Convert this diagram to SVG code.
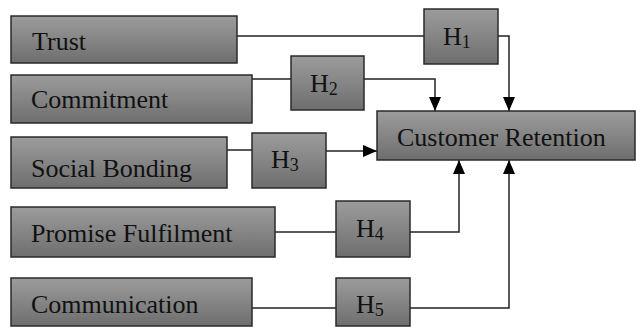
<svg xmlns="http://www.w3.org/2000/svg" width="636" height="327" viewBox="0 0 636 327">
<defs>
<linearGradient id="g" x1="0" y1="0" x2="0" y2="1">
<stop offset="0" stop-color="#9c9c9c"/>
<stop offset="1" stop-color="#6e6e6e"/>
</linearGradient>
<marker id="ah" markerWidth="14" markerHeight="12" refX="14" refY="6" orient="auto" markerUnits="userSpaceOnUse">
<path d="M0,0 L14,6 L0,12 Z" fill="#000"/>
</marker>
<style>
.box{fill:url(#g);stroke:#2a2a2a;stroke-width:1.5}
.t{font-family:"Liberation Serif","Times New Roman",serif;font-size:26px;fill:#111}
.s{font-size:18px}
.c{fill:none;stroke:#222;stroke-width:1.5}
.a{marker-end:url(#ah)}
</style>
</defs>
<rect width="636" height="327" fill="#fff"/>
<g id="connectors">
<path class="c" d="M237,36 H424"/>
<path class="c a" d="M498,36 H509 V111"/>
<path class="c" d="M252,79 H291"/>
<path class="c a" d="M364,79 H435 V111"/>
<path class="c" d="M227,150 H252"/>
<path class="c a" d="M326,151 H377"/>
<path class="c" d="M275,232 H336"/>
<path class="c a" d="M410,232 H459 V160"/>
<path class="c" d="M252,308 H336"/>
<path class="c a" d="M410,308 H509 V160"/>
</g>
<g id="trust"><rect class="box" x="11" y="16" width="226" height="47"/><text class="t" x="32" y="50">Trust</text></g>
<g id="commitment"><rect class="box" x="11" y="75" width="241" height="48"/><text class="t" x="31" y="108">Commitment</text></g>
<g id="social"><rect class="box" x="11" y="137" width="216" height="51"/><text class="t" x="31" y="177">Social Bonding</text></g>
<g id="promise"><rect class="box" x="11" y="207" width="264" height="50"/><text class="t" x="31" y="242">Promise Fulfilment</text></g>
<g id="communication"><rect class="box" x="11" y="278" width="241" height="48"/><text class="t" x="31" y="313">Communication</text></g>
<g id="h1"><rect class="box" x="424" y="9" width="74" height="55"/><text class="t" x="443" y="45">H<tspan class="s" dy="3">1</tspan></text></g>
<g id="h2"><rect class="box" x="291" y="56" width="73" height="54"/><text class="t" x="310" y="92">H<tspan class="s" dy="3">2</tspan></text></g>
<g id="h3"><rect class="box" x="252" y="133" width="74" height="55"/><text class="t" x="271" y="168">H<tspan class="s" dy="3">3</tspan></text></g>
<g id="h4"><rect class="box" x="336" y="201" width="74" height="56"/><text class="t" x="356" y="237">H<tspan class="s" dy="3">4</tspan></text></g>
<g id="h5"><rect class="box" x="336" y="278" width="74" height="48"/><text class="t" x="356" y="313">H<tspan class="s" dy="3">5</tspan></text></g>
<g id="retention"><rect class="box" x="377" y="111" width="258" height="49"/><text class="t" x="397" y="146">Customer Retention</text></g>
</svg>
